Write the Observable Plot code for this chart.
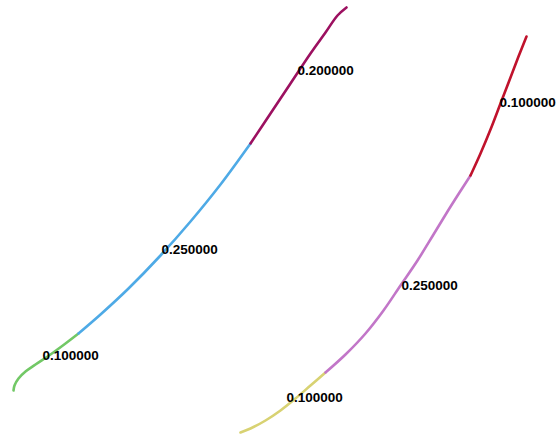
<!DOCTYPE html>
<html>
<head>
<meta charset="utf-8">
<script src="https://cdn.jsdelivr.net/npm/d3@7"></script>
<script src="https://cdn.jsdelivr.net/npm/@observablehq/plot@0.6"></script>
<style>
  html, body { margin: 0; padding: 0; background: #fff; }
</style>
</head>
<body>
<div id="chart"></div>
<script>
// Left curve (x, y with y measured upward), segment value per point
const leftX = [13, 14, 18, 25, 35, 50, 65, 78, 100, 128, 160, 190, 220, 250, 270, 290, 310, 325, 337, 346];
const leftY = [47, 52, 59, 66, 73, 83, 94, 104, 123, 149, 182, 216, 253, 294, 324, 354, 384, 405, 422, 430];
const leftSeg = ["a","a","a","a","a","a","a","a|b","b","b","b","b","b","b|c","c","c","c","c","c","c"];

// Right curve
const rightX = [240, 250, 265, 280, 295, 310, 325, 345, 365, 383, 400, 417, 433, 447, 459, 470, 480, 490, 500, 510, 518, 526];
const rightY = [5, 9, 17, 27, 39, 52, 65, 83, 104, 127, 152, 177, 203, 226, 245, 262, 284, 308, 334, 360, 381, 401];
const rightSeg = ["d","d","d","d","d","d","d|e","e","e","e","e","e","e","e","e","e|f","f","f","f","f","f","f"];

// Segment values and colours
const segKeys   = ["a", "b", "c", "d", "e", "f"];
const segValues = ["0.100000", "0.250000", "0.200000", "0.100000", "0.250000", "0.100000"];
const segColors = ["#72c866", "#4eaae6", "#9c1060", "#d8d272", "#c276c8", "#c0122c"];

// Label anchor points (data units)
const labelSeg = ["a", "b", "c", "d", "e", "f"];
const labelX = [42, 161, 297, 286, 401, 499];
const labelY = [82, 188, 367, 40, 152, 335];

function buildSegments(xs, ys, segs) {
  const rows = [];
  xs.forEach((x, i) => {
    segs[i].split("|").forEach(k => rows.push({x, y: ys[i], seg: k}));
  });
  return rows;
}
const lineData = [
  ...buildSegments(leftX, leftY, leftSeg),
  ...buildSegments(rightX, rightY, rightSeg)
];
const labels = labelSeg.map((k, i) => ({x: labelX[i], y: labelY[i], text: segValues[segKeys.indexOf(k)]}));

const chart = Plot.plot({
  width: 556,
  height: 437,
  margin: 0,
  x: {domain: [0, 556], axis: null},
  y: {domain: [0, 437], axis: null},
  color: {domain: segKeys, range: segColors},
  style: {background: "#fff"},
  marks: [
    Plot.line(lineData, {x: "x", y: "y", z: "seg", stroke: "seg", strokeWidth: 2.6, curve: "catmull-rom"}),
    Plot.text(labels, {x: "x", y: "y", text: "text", textAnchor: "start", lineAnchor: "middle",
      fill: "#000", fontSize: 13.5, fontWeight: "bold", fontFamily: "Liberation Sans, Arial, sans-serif"})
  ]
});
document.getElementById("chart").appendChild(chart);
</script>
</body>
</html>
